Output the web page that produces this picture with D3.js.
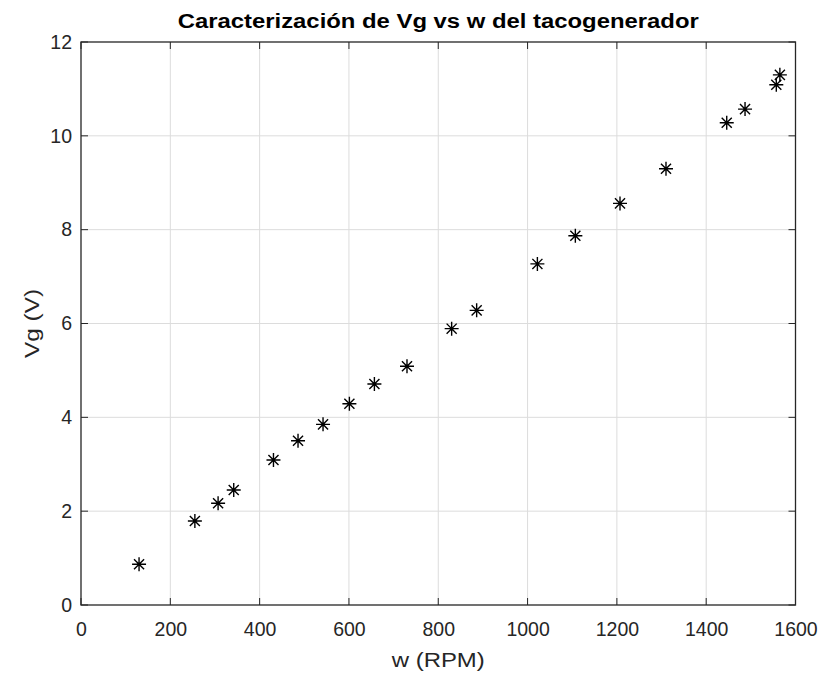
<!DOCTYPE html>
<html>
<head>
<meta charset="utf-8">
<script src="https://cdn.jsdelivr.net/npm/d3@7"></script>
<style>
  html, body { margin: 0; padding: 0; background: #fff; }
  svg { display: block; font-family: "Liberation Sans", Arial, Helvetica, sans-serif; }
</style>
</head>
<body>
<svg id="chart" width="824" height="679"></svg>
<script>
// Tachogenerator characterization: generated voltage vs shaft speed
const speedRPM = [130, 255, 307, 342, 431, 486, 542, 601, 657, 730, 830, 886, 1022, 1107, 1207, 1310, 1446, 1487, 1557, 1565];
const voltageV = [0.87, 1.79, 2.17, 2.45, 3.09, 3.50, 3.85, 4.29, 4.71, 5.09, 5.89, 6.28, 7.27, 7.87, 8.56, 9.30, 10.28, 10.57, 11.09, 11.30];
const xTicks = [0, 200, 400, 600, 800, 1000, 1200, 1400, 1600];
const yTicks = [0, 2, 4, 6, 8, 10, 12];

const titleText = "Caracterización de Vg vs w del tacogenerador";
const xLabelText = "w (RPM)";
const yLabelText = "Vg (V)";

const svg = d3.select("#chart");
const W = 824, H = 679;
const margin = { left: 81, right: W - 795.5, top: 42, bottom: H - 605 };

const x = d3.scaleLinear().domain([0, 1600]).range([margin.left, W - margin.right]);
const y = d3.scaleLinear().domain([0, 12]).range([H - margin.bottom, margin.top]);

const textColor = "#262626";
const axisColor = "#262626";

// grid
const grid = svg.append("g");
grid.selectAll("line.gx").data(xTicks.slice(1, -1)).join("line")
  .attr("x1", d => x(d)).attr("x2", d => x(d))
  .attr("y1", y(0)).attr("y2", y(12))
  .attr("stroke", "#dcdcdc").attr("stroke-width", 1);
grid.selectAll("line.gy").data(yTicks.slice(1, -1)).join("line")
  .attr("y1", d => y(d)).attr("y2", d => y(d))
  .attr("x1", x(0)).attr("x2", x(1600))
  .attr("stroke", "#dcdcdc").attr("stroke-width", 1);

// axes
const xAxis = d3.axisBottom(x).tickValues(xTicks).tickSize(0).tickPadding(17).tickFormat(d3.format("d"));
const yAxis = d3.axisLeft(y).tickValues(yTicks).tickSize(0).tickPadding(9).tickFormat(d3.format("d"));

const gx = svg.append("g").attr("transform", `translate(0,${y(0)})`).call(xAxis);
const gy = svg.append("g").attr("transform", `translate(${x(0)},0)`).call(yAxis);
[gx, gy].forEach(g => {
  g.select(".domain").remove();
  g.selectAll("text").attr("fill", textColor).style("font-size", "19.5px")
    .style("font-family", "\"Liberation Sans\", Arial, sans-serif");
});

// inward tick marks on all four sides
const tickLen = 7;
const ticks = svg.append("g").attr("stroke", axisColor).attr("stroke-width", 1);
xTicks.forEach(t => {
  ticks.append("line").attr("x1", x(t)).attr("x2", x(t)).attr("y1", y(0)).attr("y2", y(0) - tickLen);
  ticks.append("line").attr("x1", x(t)).attr("x2", x(t)).attr("y1", y(12)).attr("y2", y(12) + tickLen);
});
yTicks.forEach(t => {
  ticks.append("line").attr("y1", y(t)).attr("y2", y(t)).attr("x1", x(0)).attr("x2", x(0) + tickLen);
  ticks.append("line").attr("y1", y(t)).attr("y2", y(t)).attr("x1", x(1600)).attr("x2", x(1600) - tickLen);
});

// plot box
svg.append("rect")
  .attr("x", x(0)).attr("y", y(12))
  .attr("width", x(1600) - x(0)).attr("height", y(0) - y(12))
  .attr("fill", "none").attr("stroke", axisColor).attr("stroke-width", 1.3);

// asterisk markers
const s = 7, d = s * 0.72;
const starPath = `M${-s},0H${s}M0,${-s}V${s}M${-d},${-d}L${d},${d}M${-d},${d}L${d},${-d}`;
svg.append("g").selectAll("path").data(speedRPM.map((v, i) => [v, voltageV[i]])).join("path")
  .attr("transform", p => `translate(${x(p[0])},${y(p[1])})`)
  .attr("d", starPath)
  .attr("fill", "none").attr("stroke", "#000").attr("stroke-width", 1.4);

// title and labels
const cx = (x(0) + x(1600)) / 2;
svg.append("text").attr("x", cx).attr("y", 27.5)
  .attr("text-anchor", "middle").attr("font-weight", "bold").attr("font-size", "20px")
  .attr("textLength", 521).attr("lengthAdjust", "spacingAndGlyphs")
  .attr("fill", "#000").text(titleText);
svg.append("text").attr("x", cx).attr("y", 667)
  .attr("text-anchor", "middle").attr("font-size", "20px")
  .attr("textLength", 93).attr("lengthAdjust", "spacingAndGlyphs")
  .attr("fill", textColor).text(xLabelText);
svg.append("text").attr("transform", `translate(39,${(y(0) + y(12)) / 2}) rotate(-90)`)
  .attr("text-anchor", "middle").attr("font-size", "20px")
  .attr("textLength", 69).attr("lengthAdjust", "spacingAndGlyphs")
  .attr("fill", textColor).text(yLabelText);
</script>
</body>
</html>
